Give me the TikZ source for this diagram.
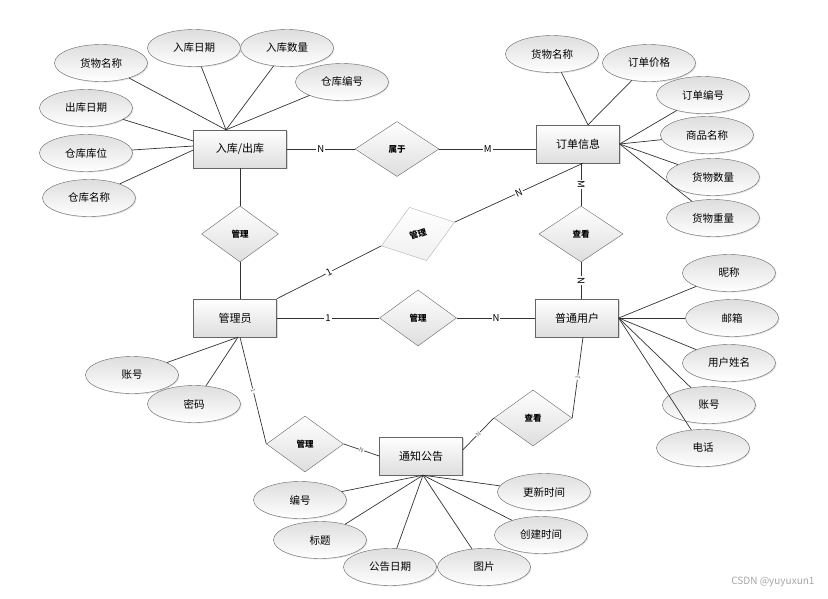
\documentclass[tikz,border=0pt]{standalone}
\usepackage{fontspec}
\newfontfamily\cjk{Noto Sans CJK SC}
\usetikzlibrary{shapes.geometric,shadows}

\tikzset{
  entity/.style={shape=rectangle,draw=black!60,top color=white,bottom color=black!13,
    minimum width=83pt,minimum height=38pt,font=\cjk\fontsize{11}{13}\selectfont,
    drop shadow={shadow xshift=1.2pt,shadow yshift=-1.2pt,opacity=0.3}},
  attr/.style={shape=ellipse,draw=black!60,top color=black!13,bottom color=white,
    minimum width=93pt,minimum height=37pt,inner sep=0pt,font=\cjk\fontsize{10.5}{12}\selectfont,
    drop shadow={shadow xshift=1pt,shadow yshift=-1pt,opacity=0.25}},
  relation/.style={shape=diamond,draw=black!60,top color=white,bottom color=black!13,
    minimum width=77pt,minimum height=56pt,inner sep=0pt,font=\cjk\fontsize{8.5}{10}\selectfont\bfseries},
  card/.style={fill=white,inner sep=1pt,sloped,font=\cjk\fontsize{9.5}{10}\selectfont},
  smallcard/.style={fill=white,inner sep=0.5pt,sloped,text=black!60,font=\cjk\fontsize{6}{7}\selectfont},
  link/.style={draw=black!80,line width=0.7pt}
}

\begin{document}
\begin{tikzpicture}[x=1pt,y=-1pt]
        \useasboundingbox (0,0) rectangle (828,598);

        % entities
        \node[entity,minimum width=93pt] (io) at (240,149) {入库/出库};
        \node[entity] (order) at (578,144) {订单信息};
        \node[entity] (admin) at (235,318) {管理员};
        \node[entity] (user) at (577,318) {普通用户};
        \node[entity] (notice) at (421,456) {通知公告};

        % relations
        \node[relation,minimum width=84pt,minimum height=55pt] (belong) at (397,149) {属于};
        \node[relation] (manageA) at (240,234) {管理};
        \node[relation,draw=black!30,bottom color=black!6,rotate=18] (manageB) at (418,234) {管理};
        \node[relation,minimum width=84pt] (viewA) at (581,234) {查看};
        \node[relation] (manageC) at (418,318) {管理};
        \node[relation] (manageD) at (305,444) {管理};
        \node[relation,minimum width=78pt] (viewB) at (533,418) {查看};

        % attributes of io
        \node[attr] (goodsA) at (101,63) {货物名称};
        \node[attr] (inDate) at (194,48) {入库日期};
        \node[attr] (inNum) at (287,48) {入库数量};
        \node[attr] (storeNo) at (342,82) {仓库编号};
        \node[attr] (outDate) at (86,108) {出库日期};
        \node[attr] (storePos) at (86,153) {仓库库位};
        \node[attr] (storeName) at (89,198) {仓库名称};

        % attributes of order
        \node[attr] (goodsB) at (552,54) {货物名称};
        \node[attr] (price) at (649,63) {订单价格};
        \node[attr] (orderNo) at (703,95) {订单编号};
        \node[attr] (prodName) at (707,135) {商品名称};
        \node[attr] (goodsNum) at (713,177) {货物数量};
        \node[attr] (goodsWt) at (713,218) {货物重量};

        % attributes of user
        \node[attr] (nick) at (729,273) {昵称};
        \node[attr] (mail) at (732,318) {邮箱};
        \node[attr] (uname) at (729,363) {用户姓名};
        \node[attr] (uacc) at (709,405) {账号};
        \node[attr] (phone) at (703,448) {电话};

        % attributes of admin
        \node[attr] (aacc) at (132,375) {账号};
        \node[attr] (pwd) at (194,404) {密码};

        % attributes of notice
        \node[attr] (nno) at (300,500) {编号};
        \node[attr] (title) at (320,540) {标题};
        \node[attr] (ndate) at (390,567) {公告日期};
        \node[attr] (pic) at (484,567) {图片};
        \node[attr] (upd) at (544,492) {更新时间};
        \node[attr] (crt) at (541,535) {创建时间};

        \node[font=\cjk\fontsize{10}{12}\selectfont,text=black!35,anchor=east] (mark) at (818,582) {CSDN @yuyuxun1};

        \coordinate (ioTop) at ([xshift=-14pt]io.north);
        \coordinate (orderTop) at ([xshift=10pt]order.north);
        \coordinate (adminFoot) at ([xshift=3pt]admin.south);
        \coordinate (noticeFoot) at ([xshift=2pt]notice.south);

        % attribute links
        \path [link] (goodsA) edge (ioTop);
        \path [link] (inDate) edge (ioTop);
        \path [link] (inNum) edge (ioTop);
        \path [link] (storeNo) edge (ioTop);
        \path [link] (outDate) edge ([yshift=8pt]io.west);
        \path [link] (storePos) edge ([yshift=3pt]io.west);
        \path [link] (storeName) edge ([yshift=-1pt]io.west);

        \path [link] (goodsB) edge (orderTop);
        \path [link] (price) edge (orderTop);
        \path [link] (orderNo) edge (order.east);
        \path [link] (prodName) edge (order.east);
        \path [link] (goodsNum) edge (order.east);
        \path [link] (goodsWt) edge (order.east);

        \path [link] (nick) edge (user.east);
        \path [link] (mail) edge (user.east);
        \path [link] (uname) edge (user.east);
        \path [link] (uacc) edge (user.east);
        \path [link] (phone) edge (user.east);

        \path [link] (aacc) edge (adminFoot);
        \path [link] (pwd) edge (adminFoot);

        \path [link] (nno) edge (noticeFoot);
        \path [link] (title) edge (noticeFoot);
        \path [link] (ndate) edge (noticeFoot);
        \path [link] (pic) edge (noticeFoot);
        \path [link] (upd) edge (noticeFoot);
        \path [link] (crt) edge (noticeFoot);

        % relation links
        \path [link] (io) edge node[card] {N} (belong);
        \path [link] (belong) edge node[card] {M} ([yshift=-5pt]order.west);
        \path [link] (io) edge (manageA);
        \path [link] (manageA) edge (manageA |- admin.north);
        \path [link] (viewA |- order.south) edge node[card] {M} (viewA);
        \path [link] (viewA) edge node[card] {N} (viewA |- user.north);
        \path [link] (admin.north east) edge node[card] {1} (manageB.west);
        \path [link] (manageB.east) edge node[card] {N} ([xshift=5pt]order.south);
        \path [link] (admin) edge node[card] {1} (manageC);
        \path [link] (manageC) edge node[card] {N} (user);
        \path [link] ([xshift=5pt]admin.south) edge node[smallcard] {1} (manageD.west);
        \path [link] (manageD.east) edge node[smallcard] {N} (notice.west);
        \path [link] ([xshift=6pt]user.south) edge node[smallcard] {1} (viewB.east);
        \path [link] (viewB.west) edge node[smallcard] {N} ([yshift=6pt]notice.east);
    \end{tikzpicture}
\end{document}
